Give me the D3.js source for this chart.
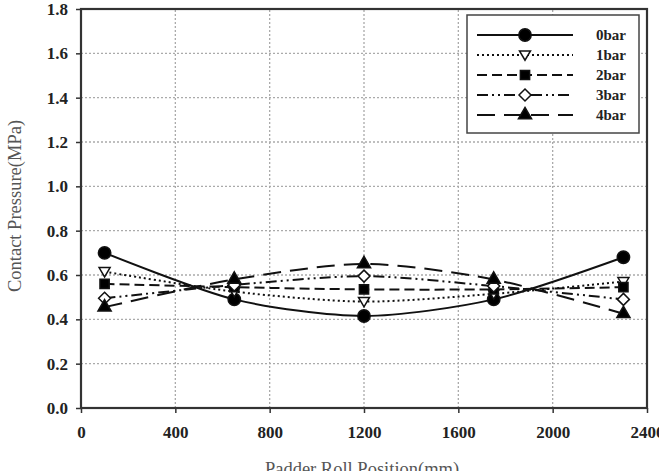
<!DOCTYPE html>
<html lang="en">
<head>
<meta charset="utf-8">
<title>Contact Pressure</title>
<script src="https://d3js.org/d3.v7.min.js"></script>
<style>
  body { margin: 0; background: #fff; }
  svg { display: block; }
</style>
</head>
<body>
<script>
  var width = 659, height = 471
  var margin = {top: 9, right: 12, bottom: 63, left: 81}

  // data
  var positions = [100, 650, 1200, 1750, 2300]
  var bar0 = [0.70, 0.49, 0.415, 0.49, 0.68]
  var bar1 = [0.615, 0.525, 0.48, 0.515, 0.57]
  var bar2 = [0.56, 0.545, 0.535, 0.535, 0.545]
  var bar3 = [0.495, 0.555, 0.595, 0.55, 0.49]
  var bar4 = [0.455, 0.58, 0.65, 0.58, 0.425]
  var seriesNames = ["0bar", "1bar", "2bar", "3bar", "4bar"]
  var xTicks = [0, 400, 800, 1200, 1600, 2000, 2400]
  var yTicks = [0, 0.2, 0.4, 0.6, 0.8, 1.0, 1.2, 1.4, 1.6, 1.8]

  var series = [
    {name: seriesNames[0], values: bar0, dash: null, symbol: d3.symbolCircle, size: 120, fill: "#000"},
    {name: seriesNames[1], values: bar1, dash: "2,3", symbol: "tridown", size: 11, fill: "#fff"},
    {name: seriesNames[2], values: bar2, dash: "10,5", symbol: d3.symbolSquare, size: 85, fill: "#000"},
    {name: seriesNames[3], values: bar3, dash: "11,4,2,4,2,4", symbol: "diamond", size: 12, fill: "#fff"},
    {name: seriesNames[4], values: bar4, dash: "18,9", symbol: d3.symbolTriangle, size: 75, fill: "#000"}
  ]

  var svg = d3.select("body").append("svg")
      .attr("width", width)
      .attr("height", height)

  var x = d3.scaleLinear().domain([0, 2400]).range([margin.left, width - margin.right])
  var y = d3.scaleLinear().domain([0, 1.8]).range([height - margin.bottom, margin.top])

  // grid
  var grid = svg.append("g")
  grid.selectAll("line.gy")
      .data(yTicks.slice(1, -1))
      .enter().append("line")
      .attr("x1", x(0)).attr("x2", x(2400))
      .attr("y1", d => y(d)).attr("y2", d => y(d))
      .attr("stroke", "#aaa").attr("stroke-width", 1.3).attr("stroke-dasharray", "2,2")
  grid.selectAll("line.gx")
      .data(xTicks.slice(1, -1))
      .enter().append("line")
      .attr("y1", y(0)).attr("y2", y(1.8))
      .attr("x1", d => x(d)).attr("x2", d => x(d))
      .attr("stroke", "#aaa").attr("stroke-width", 1.3).attr("stroke-dasharray", "2,2")

  // axes
  svg.append("g")
      .attr("transform", "translate(0," + y(0) + ")")
      .call(d3.axisBottom(x).tickValues(xTicks).tickSize(5).tickPadding(13).tickFormat(d3.format("d")))
  svg.append("g")
      .attr("transform", "translate(" + x(0) + ",0)")
      .call(d3.axisLeft(y).tickValues(yTicks).tickSize(5).tickPadding(8).tickFormat(d3.format(".1f")))
  svg.selectAll(".domain").remove()
  svg.selectAll(".tick line").attr("stroke", "#333").attr("stroke-width", 1.5)
  svg.selectAll(".tick text")
      .attr("font-family", "Liberation Serif")
      .attr("font-weight", "bold")
      .attr("font-size", 17)
      .attr("fill", "#222")

  // frame
  svg.append("rect")
      .attr("x", x(0)).attr("y", y(1.8))
      .attr("width", x(2400) - x(0)).attr("height", y(0) - y(1.8))
      .attr("fill", "none").attr("stroke", "#333").attr("stroke-width", 2.2)

  // titles
  svg.append("text")
      .attr("x", 362).attr("y", 475)
      .attr("text-anchor", "middle")
      .attr("font-family", "Liberation Serif").attr("font-size", 18.5)
      .attr("fill", "#555")
      .text("Padder Roll Position(mm)")
  svg.append("text")
      .attr("transform", "translate(21,206) rotate(-90)")
      .attr("text-anchor", "middle")
      .attr("font-family", "Liberation Serif").attr("font-size", 18.5)
      .attr("fill", "#555")
      .text("Contact Pressure(MPa)")

  function marker(g, s) {
    if (s.symbol === "tridown") {
      var r = s.size / 2
      return g.append("path").attr("d", "M" + (-r) + "," + (-r * 0.75) + "L" + r + "," + (-r * 0.75) + "L0," + (r * 0.95) + "Z")
    }
    if (s.symbol === "diamond") {
      var r = s.size / 2
      return g.append("path").attr("d", "M0," + (-r) + "L" + r + ",0L0," + r + "L" + (-r) + ",0Z")
    }
    return g.append("path").attr("d", d3.symbol().type(s.symbol).size(s.size)())
  }

  var line = d3.line()
      .x((d, i) => x(positions[i]))
      .y(d => y(d))
      .curve(d3.curveCardinal.tension(0.2))

  series.forEach(function(s) {
    svg.append("path")
        .attr("d", line(s.values))
        .attr("fill", "none").attr("stroke", "#111").attr("stroke-width", 2)
        .attr("stroke-dasharray", s.dash)
    s.values.forEach(function(v, i) {
      var g = svg.append("g").attr("transform", "translate(" + x(positions[i]) + "," + y(v) + ")")
      marker(g, s).attr("fill", s.fill).attr("stroke", "#111").attr("stroke-width", 1.5)
    })
  })

  // legend
  var legend = svg.append("g")
  legend.append("rect")
      .attr("x", 467).attr("y", 15).attr("width", 172).attr("height", 118)
      .attr("fill", "#fff").attr("stroke", "#444").attr("stroke-width", 1.5)
  series.forEach(function(s, i) {
    var ly = 35 + i * 20
    legend.append("line")
        .attr("x1", 477).attr("x2", 573).attr("y1", ly).attr("y2", ly)
        .attr("stroke", "#111").attr("stroke-width", 2)
        .attr("stroke-dasharray", s.dash)
    var g = legend.append("g").attr("transform", "translate(525," + ly + ")")
    marker(g, s).attr("fill", s.fill).attr("stroke", "#111").attr("stroke-width", 1.5)
    legend.append("text")
        .attr("x", 596).attr("y", ly + 5)
        .attr("font-family", "Liberation Serif").attr("font-weight", "bold").attr("font-size", 15)
        .attr("fill", "#222")
        .text(s.name)
  })
</script>
</body>
</html>
